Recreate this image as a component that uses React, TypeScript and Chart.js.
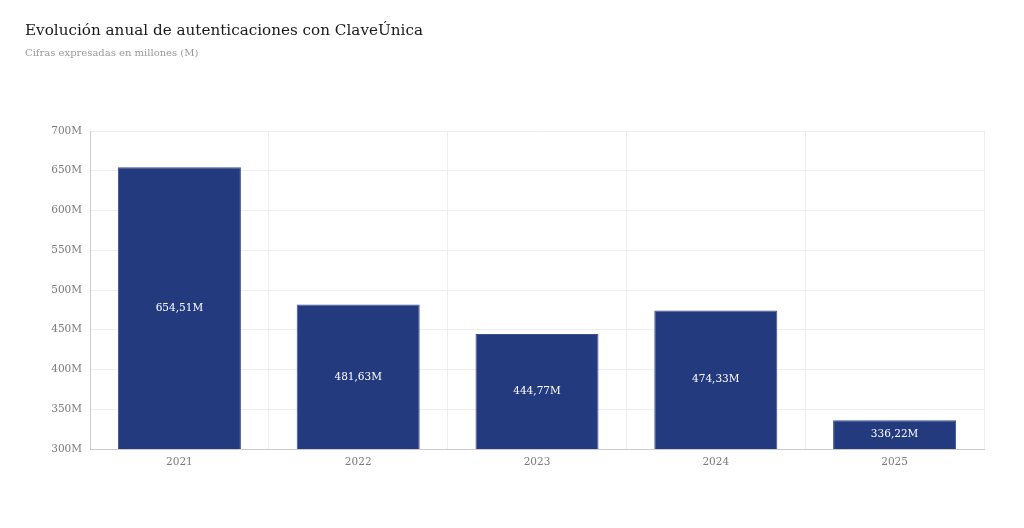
import { useEffect, useRef } from "react";
import { Chart, registerables } from "chart.js";

Chart.register(...registerables);

const YEARS = ["2021", "2022", "2023", "2024", "2025"];
const AUTH_MILLIONS = [654.51, 481.63, 444.77, 474.33, 336.22];

const SERIF = "'DejaVu Serif', serif";
const BAR_COLOR = "#233a7e";

function fmtM(v: number): string {
  return `${v.toFixed(2).replace(".", ",")}M`;
}

// draws the value in the vertical middle of each bar
const centerLabels = {
  id: "centerLabels",
  afterDatasetsDraw(chart: Chart) {
    const ctx = chart.ctx;
    const meta = chart.getDatasetMeta(0);
    const yScale = chart.scales.y;
    const base = yScale.getPixelForValue(yScale.min);
    ctx.save();
    ctx.fillStyle = "#ffffff";
    ctx.font = `10.5px ${SERIF}`;
    ctx.textAlign = "center";
    ctx.textBaseline = "middle";
    meta.data.forEach((bar: any, i: number) => {
      const top = yScale.getPixelForValue(AUTH_MILLIONS[i]);
      ctx.fillText(fmtM(AUTH_MILLIONS[i]), bar.x, (top + base) / 2);
    });
    ctx.restore();
  },
};

export default function App() {
  const canvasRef = useRef<HTMLCanvasElement>(null);

  useEffect(() => {
    document.body.style.margin = "0";
    document.body.style.background = "#ffffff";
    if (!canvasRef.current) return;

    const chart = new Chart(canvasRef.current, {
      type: "bar",
      data: {
        labels: YEARS,
        datasets: [
          {
            data: AUTH_MILLIONS,
            backgroundColor: BAR_COLOR,
            borderColor: "#3b4f92",
            borderWidth: 1,
            barPercentage: 0.688,
            categoryPercentage: 1,
          },
        ],
      },
      options: {
        animation: false,
        responsive: true,
        maintainAspectRatio: false,
        layout: { padding: { left: 0, right: 40, top: 131, bottom: 0 } },
        plugins: { legend: { display: false }, tooltip: { enabled: false } },
        scales: {
          x: {
            grid: { color: "#eeeeee", drawTicks: false },
            border: { color: "#cccccc" },
            ticks: { color: "#7a7a7a", font: { family: SERIF, size: 10.5 }, padding: 7 },
            afterFit: (s: any) => { s.height = 79; },
          },
          y: {
            min: 300,
            max: 700,
            grid: { color: "#eeeeee", drawTicks: false },
            border: { color: "#cccccc" },
            ticks: {
              stepSize: 50,
              color: "#7a7a7a",
              font: { family: SERIF, size: 10.5 },
              padding: 8,
              callback: (v: any) => `${v}M`,
            },
            afterFit: (s: any) => { s.width = 90; },
          },
        },
      },
      plugins: [centerLabels],
    });

    return () => chart.destroy();
  }, []);

  return (
    <div style={{ position: "relative", width: 1024, height: 528, fontFamily: SERIF }}>
      <div style={{ position: "absolute", left: 0, top: 0, width: 1024, height: 528 }}>
        <canvas ref={canvasRef} />
      </div>
      <div style={{ position: "absolute", left: 25, top: 21, fontSize: 15.2, color: "#1a1a1a" }}>
        Evolución anual de autenticaciones con ClaveÚnica
      </div>
      <div style={{ position: "absolute", left: 25, top: 47, fontSize: 10, color: "#999999" }}>
        Cifras expresadas en millones (M)
      </div>
    </div>
  );
}
